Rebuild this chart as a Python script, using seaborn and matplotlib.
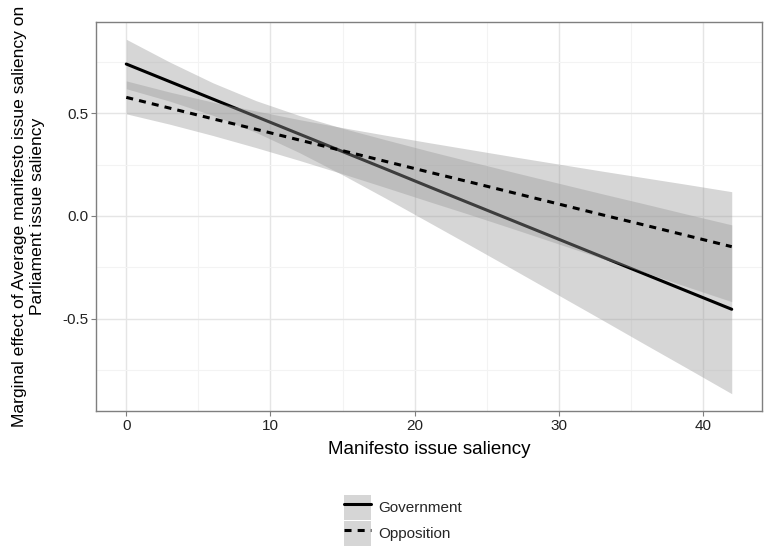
import matplotlib
matplotlib.use("Agg")
import matplotlib.pyplot as plt
from matplotlib.patches import Patch
from matplotlib.lines import Line2D
from matplotlib.ticker import FixedLocator
import seaborn as sns
import pandas as pd

# ---- data ----
x_vals = [0, 3, 6, 9, 12, 15, 18, 21, 24, 27, 30, 33, 36, 39, 42]

gov_est = [0.738, 0.653, 0.568, 0.483, 0.398, 0.313, 0.228, 0.142, 0.057,
           -0.028, -0.113, -0.198, -0.283, -0.368, -0.453]
gov_lo = [0.618, 0.558, 0.489, 0.406, 0.308, 0.200, 0.086, -0.031, -0.148,
          -0.266, -0.385, -0.504, -0.624, -0.743, -0.863]
gov_hi = [0.858, 0.748, 0.647, 0.560, 0.488, 0.426, 0.370, 0.315, 0.262,
          0.210, 0.159, 0.108, 0.058, 0.007, -0.043]

opp_est = [0.576, 0.524, 0.472, 0.421, 0.369, 0.317, 0.265, 0.213, 0.162,
           0.110, 0.058, 0.006, -0.045, -0.097, -0.149]
opp_lo = [0.496, 0.446, 0.391, 0.332, 0.270, 0.205, 0.138, 0.070, 0.003,
          -0.066, -0.136, -0.206, -0.275, -0.346, -0.416]
opp_hi = [0.656, 0.602, 0.553, 0.510, 0.468, 0.429, 0.392, 0.356, 0.321,
          0.286, 0.252, 0.218, 0.185, 0.152, 0.118]

groups = ["Government", "Opposition"]
x_ticks = [0, 10, 20, 30, 40]
y_ticks = [-0.5, 0.0, 0.5]
y_tick_labels = ["-0.5", "0.0", "0.5"]

xlabel = "Manifesto issue saliency"
ylabel = "Marginal effect of Average manifesto issue saliency on\nParliament issue saliency"

# ---- styling ----
sns.set_theme(style="white")
plt.rcParams["font.family"] = ["Liberation Sans", "DejaVu Sans"]

W, H = 766, 549
fig = plt.figure(figsize=(W / 100, H / 100), dpi=100)
ax = fig.add_axes([96 / W, 1 - 411 / H, (762 - 96) / W, (411 - 22) / H])

df = pd.DataFrame({
    "x": x_vals + x_vals,
    "y": gov_est + opp_est,
    "group": [groups[0]] * len(x_vals) + [groups[1]] * len(x_vals),
})

fill_col = "#999999"
fill_alpha = 0.4
dash_pat = (2.3, 2.0)
lw = 2.2

ax.fill_between(x_vals, gov_lo, gov_hi, color=fill_col, alpha=fill_alpha,
                linewidth=0, zorder=1)
sns.lineplot(data=df, x="x", y="y", style="group",
             dashes={"Government": "", "Opposition": dash_pat},
             color="black", linewidth=lw, legend=False, ax=ax,
             estimator=None, sort=False)
lines = ax.get_lines()
lines[0].set_zorder(2)
lines[1].set_zorder(4)
ax.fill_between(x_vals, opp_lo, opp_hi, color=fill_col, alpha=fill_alpha,
                linewidth=0, zorder=3)

# axes limits with ggplot-like expansion
ax.set_xlim(-2.1, 44.1)
ax.set_ylim(-0.947, 0.942)

ax.xaxis.set_major_locator(FixedLocator(x_ticks))
ax.xaxis.set_minor_locator(FixedLocator([5, 15, 25, 35]))
ax.yaxis.set_major_locator(FixedLocator(y_ticks))
ax.yaxis.set_minor_locator(FixedLocator([-0.75, -0.25, 0.25, 0.75]))
ax.set_yticklabels(y_tick_labels)

ax.set_axisbelow(True)
ax.grid(which="major", color="#E5E5E5", linewidth=1.0, zorder=0)
ax.grid(which="minor", color="#F3F3F3", linewidth=0.8, zorder=0)

for s in ax.spines.values():
    s.set_color("#7F7F7F")
    s.set_linewidth(1.0)
    s.set_visible(True)

ax.tick_params(which="major", direction="out", length=3.5, width=0.8,
               color="#7F7F7F", labelsize=11.0, labelcolor="#222222", pad=2,
               bottom=True, left=True)
ax.tick_params(which="minor", length=0)

ax.set_xlabel(xlabel, fontsize=13.5, color="black")
ax.set_ylabel(ylabel, fontsize=12.6, color="black", linespacing=1.25)
ax.xaxis.set_label_coords(0.5, -0.078)
ax.yaxis.set_label_coords(-0.076, 0.5)

# legend (ggplot-like, below panel)
handles = [
    (Patch(facecolor=fill_col, alpha=fill_alpha, linewidth=0),
     Line2D([], [], color="black", linewidth=lw)),
    (Patch(facecolor=fill_col, alpha=fill_alpha, linewidth=0),
     Line2D([], [], color="black", linewidth=lw, dashes=dash_pat)),
]
fig.legend(handles, groups, loc="center",
           bbox_to_anchor=(403 / W, 1 - 520.5 / H),
           frameon=False, fontsize=11.0, handlelength=1.8, handleheight=2.15,
           handletextpad=0.45, labelspacing=0.05, borderpad=0.0)

fig.savefig("out.png", dpi=100)
